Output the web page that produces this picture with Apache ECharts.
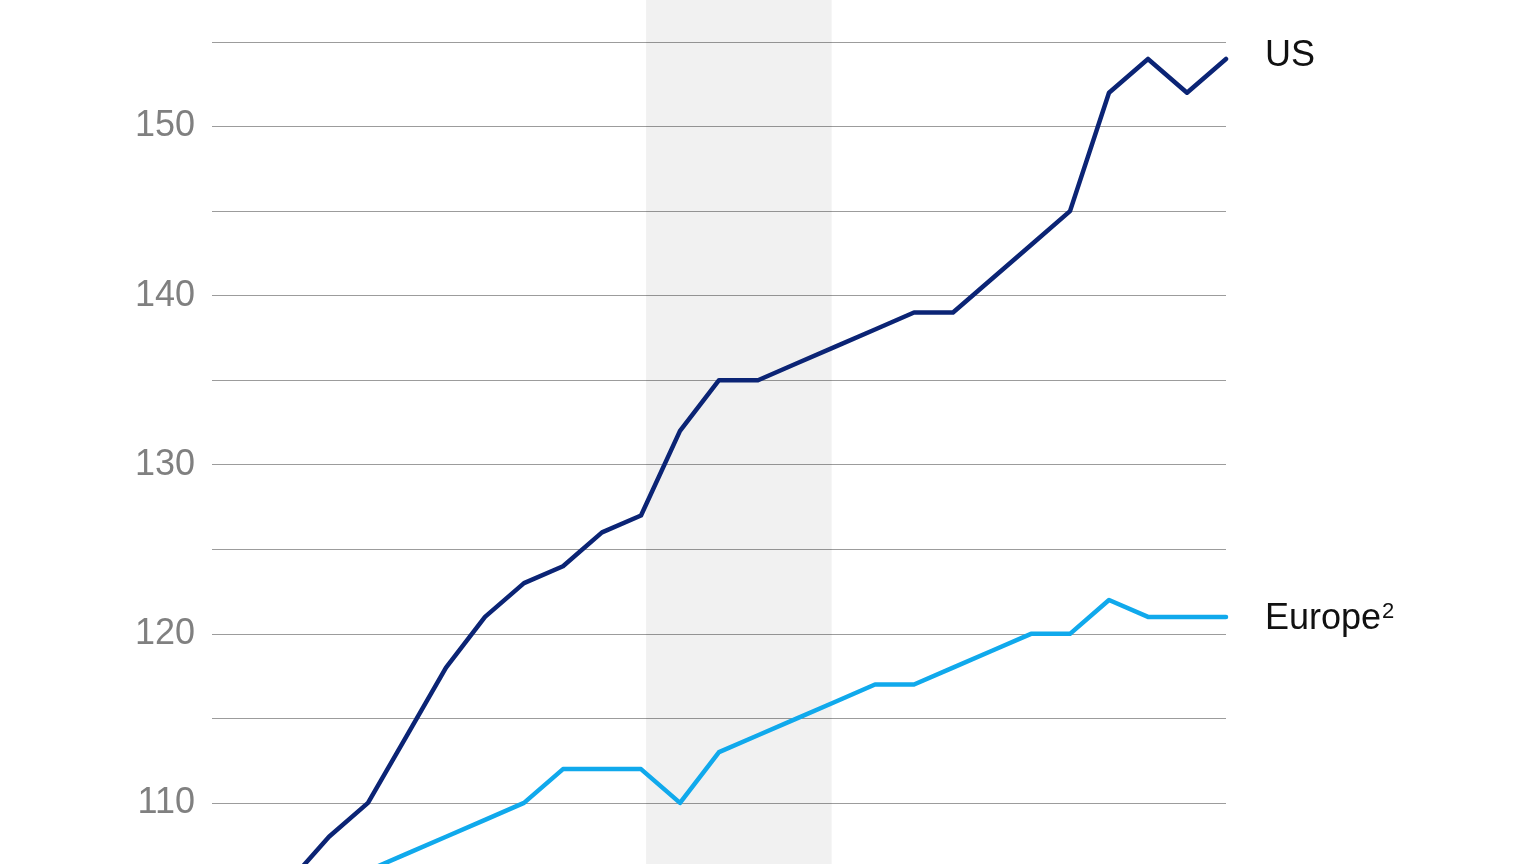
<!DOCTYPE html>
<html>
<head>
<meta charset="utf-8">
<title>US vs Europe</title>
<script src="https://cdn.jsdelivr.net/npm/echarts@6/dist/echarts.min.js"></script>
<style>
  html, body { margin: 0; padding: 0; background: #ffffff; overflow: hidden; }
  #chart { width: 1536px; height: 1000px; }
</style>
</head>
<body>
<div id="chart"></div>
<script>
  // period index along the x axis (chart is cropped, no tick labels visible)
  const periods = [0, 1, 2, 3, 4, 5, 6, 7, 8, 9, 10, 11, 12, 13, 14, 15, 16, 17, 18, 19, 20, 21, 22, 23, 24, 25, 26]
  const usValues = [101, 103, 105.4, 108, 110, 114, 118, 121, 123, 124, 126, 127, 132, 135, 135, 136, 137, 138, 139, 139, 141, 143, 145, 152, 154, 152, 154]
  const europeValues = [103.5, 104, 105, 105.5, 106, 107, 108, 109, 110, 112, 112, 112, 110, 113, 114, 115, 116, 117, 117, 118, 119, 120, 120, 122, 121, 121, 121]
  const yTickLabels = [110, 120, 130, 140, 150]
  const band = [11.13, 15.89]

  const usColor = '#0b2475'
  const euColor = '#10a9ec'
  const font = '"Liberation Sans", Arial, sans-serif'

  // top of the plot sits just above the canvas so the extra max tick line stays hidden
  const yMin = 100
  const yMax = 157.84

  let myChart = echarts.init(document.getElementById('chart'))

  let option = {
    animation: false,
    grid: {
      left: 212,
      right: 310,
      top: -6,
      height: 978,
      outerBoundsMode: 'none',
      containLabel: false
    },
    xAxis: {
      type: 'value',
      min: 0,
      max: periods.length - 1,
      axisLine: { show: false },
      axisTick: { show: false },
      axisLabel: { show: false },
      splitLine: { show: false }
    },
    yAxis: {
      type: 'value',
      min: yMin,
      max: yMax,
      interval: 5,
      axisLine: { show: false },
      axisTick: { show: false },
      axisLabel: {
        margin: 17,
        fontFamily: font,
        fontSize: 36,
        color: '#808080',
        formatter(v) {
          return yTickLabels.indexOf(v) >= 0 ? String(v) : ''
        }
      },
      splitLine: {
        lineStyle: { color: '#9c9c9c', width: 1 }
      }
    },
    series: [
      {
        name: 'US',
        type: 'line',
        data: periods.map((p, i) => [p, usValues[i]]),
        symbol: 'none',
        lineStyle: { color: usColor, width: 4.5, cap: 'round', join: 'round' },
        endLabel: {
          show: true,
          formatter: 'US',
          distance: 39,
          offset: [0, -3],
          color: '#111111',
          fontFamily: font,
          fontSize: 36
        },
        markArea: {
          silent: true,
          itemStyle: { color: 'rgba(0,0,0,0.053)' },
          data: [[{ xAxis: band[0], yAxis: yMin }, { xAxis: band[1], yAxis: yMax }]]
        }
      },
      {
        name: 'Europe²',
        type: 'line',
        data: periods.map((p, i) => [p, europeValues[i]]),
        symbol: 'none',
        lineStyle: { color: euColor, width: 4.5, cap: 'round', join: 'round' },
        endLabel: {
          show: true,
          formatter: 'Europe{sup|2}',
          distance: 39,
          offset: [0, 2],
          color: '#111111',
          fontFamily: font,
          fontSize: 36,
          rich: {
            sup: {
              fontFamily: font,
              fontSize: 22,
              color: '#111111',
              verticalAlign: 'top',
              padding: [0, 0, 0, 1]
            }
          }
        }
      }
    ]
  }

  myChart.setOption(option)
</script>
</body>
</html>
